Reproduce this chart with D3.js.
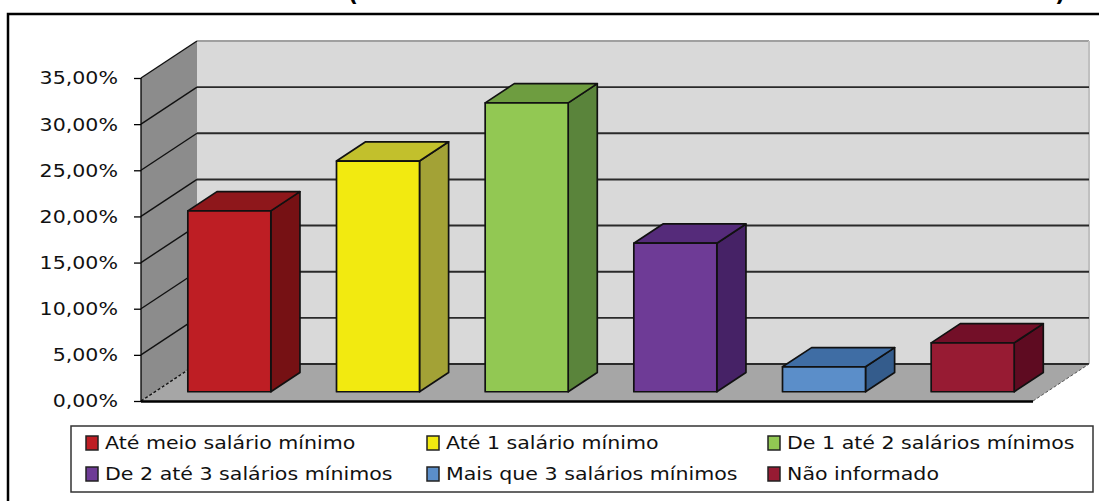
<!DOCTYPE html>
<html>
<head>
<meta charset="utf-8">
<script src="https://cdn.jsdelivr.net/npm/d3@7"></script>
<style>
  html, body { margin: 0; padding: 0; background: #ffffff; }
  svg { display: block; }
</style>
</head>
<body>
<svg id="chart" width="1099" height="501"></svg>
<script>
// Renda familiar dos entrevistados (faixas de salário mínimo)
const categories = [
  "Até meio salário mínimo",
  "Até 1 salário mínimo",
  "De 1 até 2 salários mínimos",
  "De 2 até 3 salários mínimos",
  "Mais que 3 salários mínimos",
  "Não informado"
];
const values = [0.196, 0.250, 0.313, 0.161, 0.027, 0.053];
const tickValues = [0, 0.05, 0.10, 0.15, 0.20, 0.25, 0.30, 0.35];
const frontColors = ["#be1e24", "#f2ea10", "#92c853", "#6e3b96", "#5b8ec9", "#971b33"];
const topColors   = ["#8e171b", "#c2c02c", "#6e9d40", "#552b7a", "#3f6da4", "#730f28"];
const sideColors  = ["#761114", "#a3a236", "#5a843b", "#462266", "#345c8c", "#5e0b21"];

const svg = d3.select("#chart");

// Portuguese number format: 35,00%
const ptBR = d3.formatLocale({ decimal: ",", thousands: ".", grouping: [3], currency: ["R$", ""] });
const fmt = ptBR.format(".2%");

// Front plane scales, plus an oblique depth vector for the 3-D look
const x = d3.scaleBand().domain(categories).range([141, 1033]).padding(0);
const y = d3.scaleLinear().domain([0, 0.35]).range([401, 78]);
const DX = 56, DY = -37;           // full depth of the plot box
const z0 = 0.25, z1 = 0.77;        // depth span occupied by the columns
const barW = 83;
const SX = 1.21;                   // horizontal stretch of the text

// outer frame
svg.append("rect")
  .attr("x", 8).attr("y", 14).attr("width", 1200).attr("height", 600)
  .attr("fill", "none").attr("stroke", "#000").attr("stroke-width", 2.5);

// title (only the closing glyphs remain inside the view)
svg.append("text").attr("x", 348).attr("y", 1)
  .attr("font-family", "DejaVu Sans").attr("font-weight", "bold").attr("font-size", 22)
  .text("(");
svg.append("text").attr("x", 1055).attr("y", 1)
  .attr("font-family", "DejaVu Sans").attr("font-weight", "bold").attr("font-size", 22)
  .text(")");

const x0 = x.range()[0], x1 = x.range()[1];
const yTop = y(0.35), yBot = y(0);
const pts = a => a.map(p => p.join(",")).join(" ");

// side wall
svg.append("polygon")
  .attr("points", pts([[x0, yTop], [x0 + DX, yTop + DY], [x0 + DX, yBot + DY], [x0, yBot]]))
  .attr("fill", "#8c8c8c");
// back wall
svg.append("polygon")
  .attr("points", pts([[x0 + DX, yTop + DY], [x1 + DX, yTop + DY], [x1 + DX, yBot + DY], [x0 + DX, yBot + DY]]))
  .attr("fill", "#d9d9d9");
// back wall edges
svg.append("line")
  .attr("x1", x0 + DX).attr("x2", x1 + DX).attr("y1", yTop + DY).attr("y2", yTop + DY)
  .attr("stroke", "#a0a0a0").attr("stroke-width", 2);
svg.append("line")
  .attr("x1", x1 + DX).attr("x2", x1 + DX).attr("y1", yTop + DY).attr("y2", yBot + DY)
  .attr("stroke", "#c0c0c0").attr("stroke-width", 2);

// floor
svg.append("polygon")
  .attr("points", pts([[x0, yBot], [x0 + DX, yBot + DY], [x1 + DX, yBot + DY], [x1, yBot]]))
  .attr("fill", "#a6a6a6");

// gridlines on back wall and side wall
const grid = svg.append("g");
tickValues.filter(t => t < 0.35).forEach(t => {
  grid.append("line")
    .attr("x1", x0 + DX).attr("x2", x1 + DX)
    .attr("y1", y(t) + DY).attr("y2", y(t) + DY)
    .attr("stroke", "#2a2a2a").attr("stroke-width", 1.9);
});
tickValues.forEach(t => {
  grid.append("line")
    .attr("x1", x0).attr("y1", y(t))
    .attr("x2", x0 + DX).attr("y2", y(t) + DY)
    .attr("stroke", "#111").attr("stroke-width", 1.4)
    .attr("stroke-dasharray", t === 0 ? "3,2" : null);
});
// floor right edge
grid.append("line")
  .attr("x1", x1).attr("y1", yBot).attr("x2", x1 + DX).attr("y2", yBot + DY)
  .attr("stroke", "#555").attr("stroke-width", 1).attr("stroke-dasharray", "3,2");

// columns
const bars = svg.append("g").selectAll("g").data(categories).join("g");
bars.each(function (c, i) {
  const g = d3.select(this);
  const v = values[i];
  const fx0 = x(c) + x.bandwidth() / 2 - barW / 2 + z0 * DX;
  const fx1 = fx0 + barW;
  const ft = y(v) + z0 * DY;
  const fb = y(0) + z0 * DY;
  const dd = (z1 - z0) * DX, ddy = (z1 - z0) * DY;
  const apply = (sel) => sel.attr("stroke", "#111").attr("stroke-width", 1.7).attr("stroke-linejoin", "round");
  apply(g.append("polygon")
    .attr("points", pts([[fx1, ft], [fx1 + dd, ft + ddy], [fx1 + dd, fb + ddy], [fx1, fb]]))
    .attr("fill", sideColors[i]));
  apply(g.append("polygon")
    .attr("points", pts([[fx0, ft], [fx1, ft], [fx1 + dd, ft + ddy], [fx0 + dd, ft + ddy]]))
    .attr("fill", topColors[i]));
  apply(g.append("rect")
    .attr("x", fx0).attr("y", ft).attr("width", barW).attr("height", fb - ft)
    .attr("fill", frontColors[i]));
});

// axes
svg.append("line")
  .attr("x1", x0).attr("x2", x1).attr("y1", yBot + 0.5).attr("y2", yBot + 0.5)
  .attr("stroke", "#000").attr("stroke-width", 2.6);
svg.append("line")
  .attr("x1", x0).attr("x2", x0).attr("y1", yTop).attr("y2", yBot)
  .attr("stroke", "#000").attr("stroke-width", 1.3);

const yAxis = d3.axisLeft(y).tickValues(tickValues).tickFormat(fmt).tickSize(7).tickPadding(16);
const ax = svg.append("g").attr("transform", `translate(${x0},0)`).call(yAxis);
ax.select(".domain").remove();
ax.selectAll(".tick line").attr("stroke", "#000").attr("stroke-width", 1.3);
ax.selectAll(".tick text")
  .attr("font-family", "DejaVu Sans").attr("font-size", 17).attr("fill", "#111")
  .attr("x", null).attr("dy", "0.35em")
  .attr("transform", `translate(-23,0) scale(${SX},1)`);

// legend
const legend = svg.append("g");
legend.append("rect")
  .attr("x", 71).attr("y", 426).attr("width", 1022).attr("height", 66)
  .attr("fill", "#fff").attr("stroke", "#333").attr("stroke-width", 1.5);
const colX = [86, 427, 768];
const rowY = [443, 474];
categories.forEach((c, i) => {
  const cx = colX[i % 3], cy = rowY[Math.floor(i / 3)];
  legend.append("rect")
    .attr("x", cx).attr("y", cy - 7).attr("width", 12).attr("height", 14)
    .attr("fill", frontColors[i]).attr("stroke", "#222").attr("stroke-width", 1.5);
  legend.append("text")
    .attr("transform", `translate(${cx + 19},${cy}) scale(${SX},1)`)
    .attr("dy", "0.36em")
    .attr("font-family", "DejaVu Sans").attr("font-size", 17).attr("fill", "#111")
    .text(c);
});
</script>
</body>
</html>
